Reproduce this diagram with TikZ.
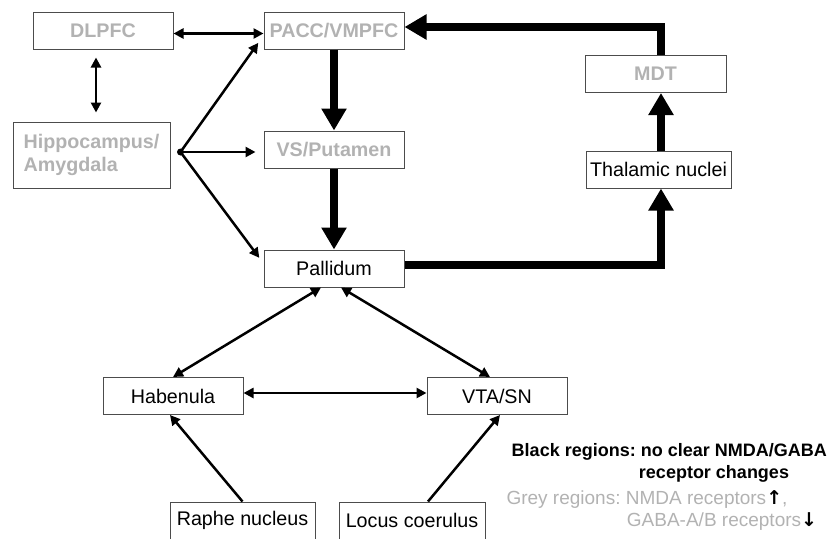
\documentclass[tikz,border=0pt]{standalone}
\usepackage{fontspec}
\setmainfont{Liberation Sans}
\newfontfamily\arrowfont{DejaVu Sans}
\usetikzlibrary{calc}
\usetikzlibrary{positioning, arrows.meta}

\colorlet{greytxt}{gray!60}
\frenchspacing

\begin{document}
\begin{tikzpicture}[
    x=1pt, y=-1pt,
    node distance=81pt and 90pt,
    region/.style={rectangle, draw=black!70, line width=1pt, minimum width=140pt, minimum height=37pt, inner sep=2pt, font=\fontsize{19.7}{23.5}\selectfont},
    greyregion/.style={region, text=greytxt, font=\fontsize{19.7}{23.5}\selectfont\bfseries},
    link/.style={{Triangle[length=10pt,width=10pt]}-{Triangle[length=10pt,width=10pt]}, line width=2.5pt},
    oneway/.style={-{Triangle[length=10pt,width=10pt]}, line width=2.5pt},
    flow/.style={-{Triangle[length=22pt,width=24pt]}, line width=8pt}
]
    \useasboundingbox (0,0) rectangle (829,538);

    % Grey regions
    \node (dlpfc) [greyregion] at (103,30.5) {DLPFC};
    \node (pacc)  [greyregion, right=90pt of dlpfc] {PACC/VMPFC};
    \node (vs)    [greyregion, below=of pacc] {VS/Putamen};
    \node (hippo) [greyregion, minimum width=157pt, minimum height=66pt, align=left] at (91.5,155) {Hippocampus/\\Amygdala};
    \node (mdt)   [greyregion, minimum width=141pt] at (655.5,74) {MDT};

    % Black regions
    \node (pall)  [region, below=of vs] {Pallidum};
    \node (thal)  [region, minimum width=145pt, inner sep=1pt] at (658.5,169.5) {Thalamic nuclei};
    \node (hab)   [region] at (173,396) {Habenula};
    \node (vta)   [region, right=183pt of hab] {VTA/SN};
    \node (raphe) [region, minimum width=145pt] at (242.5,520.5) {Raphe nucleus};
    \node (locus) [region, minimum width=146pt, right=23pt of raphe] {Locus coerulus};

    % Cortical links
    \draw [link] ([yshift=-3pt]dlpfc.east) -- ([yshift=-3pt]pacc.west);
    \draw [link, shorten <=8pt, shorten >=9pt] ($(dlpfc.south)+(-7pt,0)$) -- ($(dlpfc.south |- hippo.north)+(-7pt,0)$);

    % Hippocampus/Amygdala outputs
    \coordinate (fan) at ([xshift=10pt,yshift=3pt]hippo.east);
    \fill (fan) circle (3.5pt);
    \draw [oneway, shorten >=9pt] (fan) -- ([yshift=-5pt]pacc.west);
    \draw [oneway, shorten >=8pt] (fan) -- (fan -| vs.west);
    \draw [oneway, shorten >=7pt] (fan) -- ([yshift=5pt]pall.west);

    % Cortico-striato-thalamic loop (thick)
    \draw [flow] (pacc.south) -- (vs.north);
    \draw [flow] (vs.south) -- (pall.north);
    \draw [flow] ([yshift=4pt]pall.east) -| ($(thal.south)+(2.5pt,0)$);
    \draw [flow] ($(thal.north)+(2.5pt,0)$) -- ($(thal.north |- mdt.south)+(2.5pt,0)$);
    \draw [flow] ($(mdt.north)+(5.5pt,0)$) |- ([yshift=3.5pt]pacc.east);

    % Midbrain links
    \draw [link] ($(pall.south)+(-13pt,0)$) -- (hab.north);
    \draw [link] ($(pall.south)+(7pt,0)$) -- ($(vta.north)+(-7pt,0)$);
    \draw [link] ([yshift=3pt]hab.east) -- ([yshift=3pt]vta.west);
    \draw [oneway] (raphe.north) -- ($(hab.south)+(-3pt,0)$);
    \draw [oneway] ($(locus.north)+(16pt,0)$) -- ($(vta.south)+(3pt,0)$);

    % Key
    \node (key1) [anchor=east, inner sep=0pt, font=\fontsize{18}{22}\selectfont\bfseries] at (827,452) {Black regions: no clear NMDA/GABA};
    \node (key2) [inner sep=0pt, font=\fontsize{18}{22}\selectfont\bfseries] at (714,474) {receptor changes};
    \node (key3) [inner sep=0pt, text=greytxt, font=\fontsize{19}{23}\selectfont] at (647,500) {Grey regions: NMDA receptors\textcolor{black}{\arrowfont\bfseries ↑},};
    \node (key4) [inner sep=0pt, text=greytxt, font=\fontsize{19}{23}\selectfont] at (722,522) {GABA-A/B receptors\textcolor{black}{\arrowfont\bfseries ↓}};

\end{tikzpicture}
\end{document}
